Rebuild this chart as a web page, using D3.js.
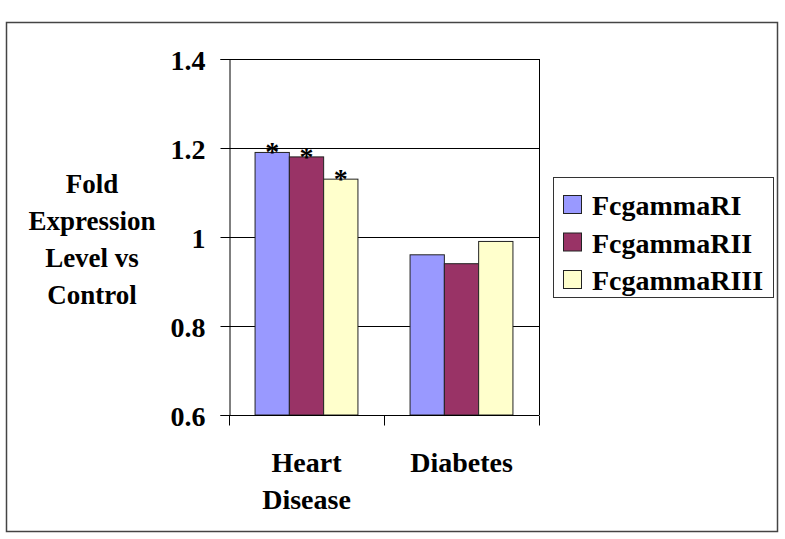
<!DOCTYPE html>
<html>
<head>
<meta charset="utf-8">
<script src="https://cdn.jsdelivr.net/npm/d3@7"></script>
<style>
  body { margin: 0; background: #fff; }
</style>
</head>
<body>
<div id="chart"></div>
<script>
'use strict';

const categories = ["Heart Disease", "Diabetes"];
const seriesNames = ["FcgammaRI", "FcgammaRII", "FcgammaRIII"];
const seriesColors = ["#9999FF", "#993366", "#FFFFCC"];
const seriesValues = [
    [1.19, 0.96],
    [1.18, 0.94],
    [1.13, 0.99]
];
const significant = [
    [true, false],
    [true, false],
    [true, false]
];
const yTicks = [0.6, 0.8, 1, 1.2, 1.4];
const yTitle = ["Fold", "Expression", "Level vs", "Control"];

const width = 785, height = 539;
const plot = {left: 229, right: 539, top: 59, bottom: 415};

const svg = d3.select("#chart").append("svg")
    .attr("width", width)
    .attr("height", height);

// outer frame
svg.append("rect")
    .attr("x", 6.5).attr("y", 22.5)
    .attr("width", 771).attr("height", 509)
    .attr("fill", "#fff")
    .attr("stroke", "#444")
    .attr("stroke-width", 1.5);

const x = d3.scaleBand()
    .domain(categories)
    .range([plot.left, plot.right]);

const xInner = d3.scaleBand()
    .domain(seriesNames)
    .range([0, x.bandwidth()])
    .paddingOuter(0.76)
    .paddingInner(0);

const y = d3.scaleLinear()
    .domain([0.6, 1.4])
    .range([plot.bottom, plot.top]);

// gridlines
svg.append("g")
    .selectAll("line")
    .data(yTicks.slice(1))
    .join("line")
    .attr("x1", plot.left).attr("x2", plot.right)
    .attr("y1", d => Math.round(y(d)) + 0.5)
    .attr("y2", d => Math.round(y(d)) + 0.5)
    .attr("stroke", "#000");

// right edge of plot
svg.append("line")
    .attr("x1", plot.right + 0.5).attr("x2", plot.right + 0.5)
    .attr("y1", plot.top).attr("y2", plot.bottom)
    .attr("stroke", "#000");

// bars
const groups = svg.append("g")
    .selectAll("g")
    .data(seriesNames)
    .join("g")
    .attr("fill", (d, i) => seriesColors[i]);

groups.selectAll("rect")
    .data((s, si) => categories.map((c, ci) => ({s: s, c: c, v: seriesValues[si][ci]})))
    .join("rect")
    .attr("x", d => x(d.c) + xInner(d.s))
    .attr("y", d => y(d.v))
    .attr("width", xInner.bandwidth())
    .attr("height", d => y(0.6) - y(d.v))
    .attr("stroke", "#222")
    .attr("stroke-width", 1);

// asterisks
const stars = [];
seriesNames.forEach((s, si) => categories.forEach((c, ci) => {
    if (significant[si][ci]) stars.push({s: s, c: c, v: seriesValues[si][ci]});
}));
svg.selectAll(".star")
    .data(stars)
    .join("text")
    .attr("class", "star")
    .attr("x", d => x(d.c) + xInner(d.s) + xInner.bandwidth() / 2)
    .attr("y", d => y(d.v) + 9)
    .attr("text-anchor", "middle")
    .attr("font-size", 28)
    .text("*");

// y axis
const yAxis = svg.append("g")
    .attr("transform", `translate(${plot.left + 0.5},0)`)
    .call(d3.axisLeft(y).tickValues(yTicks).tickSize(9).tickPadding(15).tickFormat(d3.format("")));
yAxis.select(".domain").attr("stroke", "#000");
yAxis.selectAll(".tick line").attr("stroke", "#000");
yAxis.selectAll(".tick text")
    .attr("dy", "0.36em")
    .attr("font-size", 28);

// x axis (ticks at category boundaries)
const xAxisG = svg.append("g")
    .attr("transform", `translate(0,${plot.bottom + 0.5})`);
xAxisG.append("line")
    .attr("x1", plot.left).attr("x2", plot.right)
    .attr("stroke", "#000");
xAxisG.selectAll(".bound")
    .data(categories.map(c => x(c)).concat([plot.right]))
    .join("line")
    .attr("class", "bound")
    .attr("x1", d => Math.round(d) + 0.5).attr("x2", d => Math.round(d) + 0.5)
    .attr("y1", 0).attr("y2", 10)
    .attr("stroke", "#000");

const catLines = [];
categories.forEach(c => c.split(" ").forEach((w, i) => catLines.push({c: c, w: w, i: i})));
svg.selectAll(".cat")
    .data(catLines)
    .join("text")
    .attr("class", "cat")
    .attr("x", d => x(d.c) + x.bandwidth() / 2)
    .attr("y", d => plot.bottom + 57 + d.i * 37)
    .attr("text-anchor", "middle")
    .attr("font-size", 28)
    .text(d => d.w);

// y title
svg.selectAll(".ytitle")
    .data(yTitle)
    .join("text")
    .attr("class", "ytitle")
    .attr("x", 92)
    .attr("y", (d, i) => 193 + i * 37)
    .attr("text-anchor", "middle")
    .attr("font-size", 27)
    .text(d => d);

// legend
const legend = svg.append("g").attr("transform", "translate(553,177)");
legend.append("rect")
    .attr("x", 0.5).attr("y", 0.5)
    .attr("width", 220).attr("height", 120)
    .attr("fill", "#fff")
    .attr("stroke", "#333");

const items = legend.selectAll(".item")
    .data(seriesNames)
    .join("g")
    .attr("class", "item")
    .attr("transform", (d, i) => `translate(0,${28 + i * 37.5})`);
items.append("rect")
    .attr("x", 10.5).attr("y", -9.5)
    .attr("width", 18).attr("height", 18)
    .attr("fill", (d, i) => seriesColors[i])
    .attr("stroke", "#222");
items.append("text")
    .attr("x", 39)
    .attr("y", 10)
    .attr("font-size", 28)
    .text(d => d);

// Times-style bold serif on every label
svg.selectAll("text")
    .style("font-family", "Liberation Serif")
    .style("font-weight", "bold")
    .style("fill", "#000");
</script>
</body>
</html>
